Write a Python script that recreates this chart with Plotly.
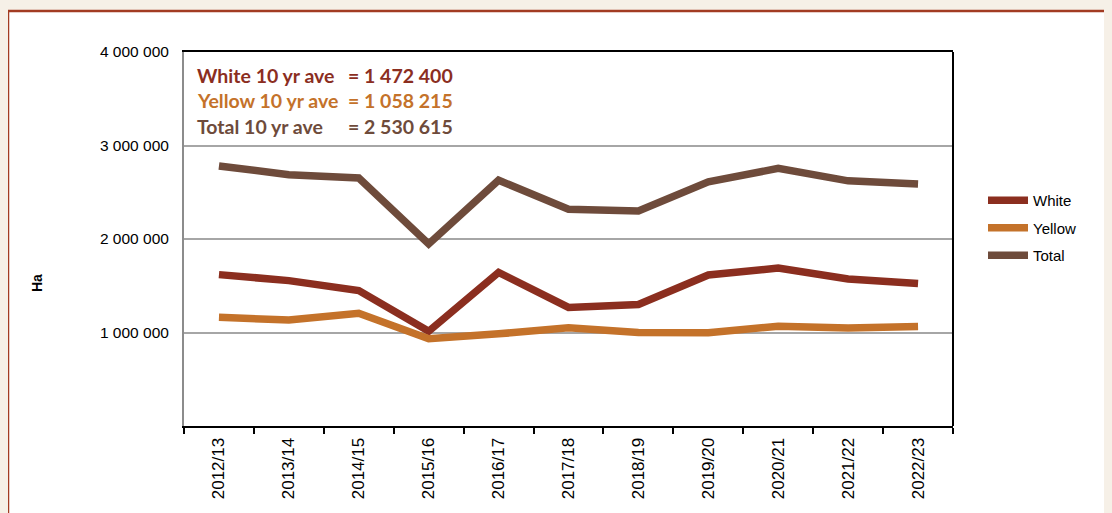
import plotly.graph_objects as go

seasons = ["2012/13", "2013/14", "2014/15", "2015/16", "2016/17", "2017/18",
           "2018/19", "2019/20", "2020/21", "2021/22", "2022/23"]
white = [1619000, 1555000, 1448000, 1013300, 1643100, 1268500,
         1300000, 1614800, 1689000, 1573000, 1523000]
yellow = [1162000, 1133000, 1205000, 933450, 985500, 1050000,
          1000000, 996500, 1067000, 1049000, 1065000]
total = [2781000, 2688000, 2653000, 1946750, 2628600, 2318500,
         2300000, 2611300, 2756000, 2622000, 2588000]

avg_labels = ["White 10 yr ave", "Yellow 10 yr ave", "Total 10 yr ave"]
avg_values = ["= 1 472 400", "= 1 058 215", "= 2 530 615"]

y_tickvals = [1000000, 2000000, 3000000, 4000000]
y_ticktext = ["1 000 000", "2 000 000", "3 000 000", "4 000 000"]

C_WHITE = "#8B2E1F"
C_YELLOW = "#C4722A"
C_TOTAL = "#6E4B3B"
BG = "#F6F0E7"
series = [("White", white, C_WHITE), ("Yellow", yellow, C_YELLOW), ("Total", total, C_TOTAL)]

fig = go.Figure()
for i, (name, vals, col) in enumerate(series):
    fig.add_trace(go.Scatter(
        x=seasons, y=vals, name=name, mode="lines",
        line=dict(color=col, width=7.5),
        legendgroup=name,
    ))

# page body has an 8px margin: the figure starts at (8, 8) in the window
OFF = 8
W, H = 1112 - OFF, 513 - OFF
L, R, T, B = 184 - OFF, 953 - OFF, 52 - OFF, 426 - OFF
pw, ph = R - L, B - T

def px(x):
    return (x - OFF - L) / pw

def py(y):
    return (B - (y - OFF)) / ph

shapes = [
    dict(type="rect", xref="paper", yref="paper", layer="below",
         x0=px(8), x1=px(1130), y0=py(11), y1=py(540),
         fillcolor="white", line=dict(color="#A23B22", width=2.5)),
    dict(type="line", xref="paper", yref="paper",
         x0=1, x1=1, y0=0, y1=1, line=dict(color="black", width=2)),
]

annotations = []
ys = [75, 101, 126]
cols = [C_WHITE, C_YELLOW, C_TOTAL]
for lab, val, yy, col in zip(avg_labels, avg_values, ys, cols):
    annotations.append(dict(xref="paper", yref="paper", x=px(195), y=py(yy),
                            xanchor="left", yanchor="middle", showarrow=False,
                            text="<b>%s</b>" % lab,
                            font=dict(family="Lato", size=19.5, color=col)))
    annotations.append(dict(xref="paper", yref="paper", x=px(346), y=py(yy),
                            xanchor="left", yanchor="middle", showarrow=False,
                            text="<b>%s</b>" % val,
                            font=dict(family="Lato", size=19.5, color=col)))
annotations.append(dict(xref="paper", yref="paper", x=px(37), y=py(283),
                        xanchor="center", yanchor="middle", showarrow=False,
                        text="<b>Ha</b>", textangle=-90,
                        font=dict(family="Liberation Sans, Arial", size=14, color="black")))

fig.update_layout(
    width=W, height=H,
    margin=dict(l=L, r=W - R, t=T, b=H - B, pad=0),
    paper_bgcolor=BG,
    plot_bgcolor="rgba(0,0,0,0)",
    font=dict(family="Liberation Sans, Arial", color="black"),
    showlegend=True,
    legend=dict(x=px(983), y=py(184), xanchor="left", yanchor="top",
                bgcolor="rgba(0,0,0,0)", font=dict(size=15, color="black"),
                tracegroupgap=5, traceorder="grouped", itemwidth=40),
    shapes=shapes,
    annotations=annotations,
    xaxis=dict(type="category", range=[-0.5, 10.5],
               showline=True, linecolor="black", linewidth=2, mirror=True,
               ticks="outside", tickson="boundaries", ticklen=6, tickcolor="black",
               tickwidth=1.5, tickangle=-90, tickfont=dict(size=17),
               ticklabelstandoff=3, showgrid=False),
    yaxis=dict(range=[0, 4000000], tickvals=y_tickvals, ticktext=y_ticktext,
               showline=True, linecolor="#8C8C8C", linewidth=2,
               showgrid=True, gridcolor="#A6A6A6", gridwidth=1.5,
               zeroline=False, ticks="", ticklabelstandoff=10,
               tickfont=dict(size=15.5)),
)

fig.write_html("out.html",
               post_script="document.body.style.background='%s';" % BG)
